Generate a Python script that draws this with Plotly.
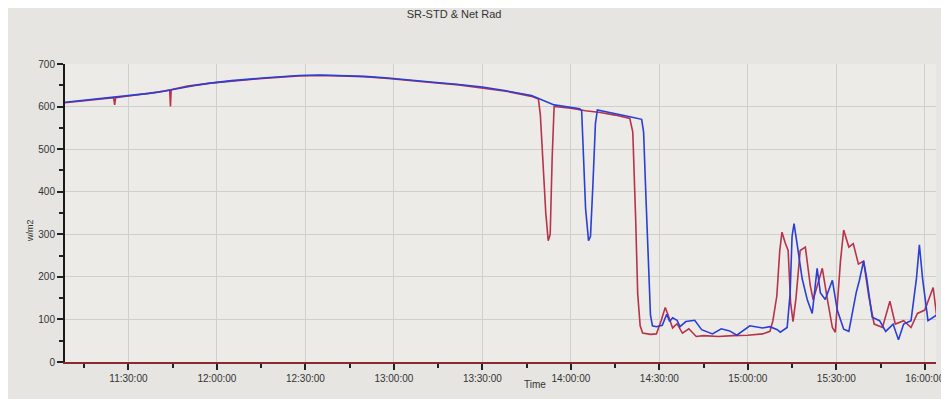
import plotly.graph_objects as go

DAY = "2024-01-01 "

title_text = "SR-STD & Net Rad"
y_title = "w/m2"
x_title = "Time"

red_times = ["11:08:30", "11:20:00", "11:25:00", "11:25:20", "11:25:40", "11:30:00", "11:35:00",
             "11:40:00", "11:44:00", "11:44:15", "11:44:30", "11:50:00", "11:57:45", "12:05:00",
             "12:15:30", "12:27:50", "12:35:00", "12:41:45", "12:50:00", "12:58:00", "13:05:00",
             "13:13:30", "13:22:00", "13:30:00", "13:38:00", "13:46:40", "13:49:00", "13:49:40",
             "13:50:30", "13:51:30", "13:52:20", "13:53:00", "13:53:40", "13:54:20", "14:00:00",
             "14:05:00", "14:10:00", "14:15:00", "14:20:00", "14:21:00", "14:22:00", "14:22:40",
             "14:23:30", "14:24:20", "14:27:00", "14:29:00", "14:30:40", "14:32:00", "14:33:00",
             "14:34:30", "14:36:00", "14:37:50", "14:40:00", "14:42:30", "14:45:00", "14:50:00",
             "14:55:00", "15:00:00", "15:05:00", "15:07:30", "15:08:30", "15:09:50", "15:10:50",
             "15:11:35", "15:12:40", "15:13:40", "15:14:30", "15:15:20", "15:16:20", "15:17:45",
             "15:19:30", "15:21:10", "15:22:10", "15:25:15", "15:27:00", "15:28:40", "15:29:40",
             "15:31:25", "15:32:30", "15:34:15", "15:35:45", "15:37:30", "15:39:15", "15:41:00",
             "15:42:50", "15:45:40", "15:48:10", "15:50:00", "15:52:50", "15:55:20", "15:57:30",
             "16:00:00", "16:02:50", "16:04:00"]
red_values = [609, 617, 621, 604, 621, 625, 629,
              634, 639, 600, 640, 648, 655, 660,
              666, 672, 673, 672, 670, 666, 661,
              656, 651, 644, 636, 624, 618, 580,
              470, 350, 285, 300, 480, 600, 596,
              590, 586, 580, 572, 540, 330, 160,
              85, 68, 65, 66, 98, 128, 110,
              80, 90, 68, 78, 60, 62, 60,
              62, 63, 66, 72, 97, 155, 262,
              305, 280, 262, 140, 95, 150, 262,
              270, 180, 146, 220, 146, 81, 70,
              237, 310, 270, 278, 230, 237, 155,
              89, 81, 143, 89, 97, 81, 114,
              122, 175, 110]

blue_times = ["11:08:30", "11:18:00", "11:22:00", "11:27:00", "11:32:00", "11:37:00", "11:42:00",
              "11:47:00", "11:52:00", "11:57:45", "12:05:00", "12:15:30", "12:27:50", "12:35:00",
              "12:41:45", "12:50:00", "12:58:00", "13:05:00", "13:13:30", "13:22:00", "13:30:00",
              "13:38:00", "13:46:40", "13:54:20", "14:00:00", "14:03:00", "14:03:40", "14:04:20",
              "14:05:00", "14:06:00", "14:06:40", "14:07:30", "14:08:20", "14:09:00", "14:12:00",
              "14:16:00", "14:20:00", "14:24:00", "14:24:40", "14:25:30", "14:26:20", "14:27:00",
              "14:27:40", "14:29:00", "14:31:00", "14:32:30", "14:33:30", "14:34:30", "14:36:00",
              "14:37:00", "14:39:00", "14:42:00", "14:44:20", "14:48:00", "14:51:00", "14:53:50",
              "14:56:15", "15:00:40", "15:05:00", "15:07:30", "15:10:00", "15:11:00", "15:13:20",
              "15:14:20", "15:15:00", "15:15:40", "15:16:40", "15:18:25", "15:20:10", "15:21:50",
              "15:23:30", "15:24:35", "15:26:15", "15:28:40", "15:30:20", "15:32:30", "15:34:15",
              "15:36:45", "15:37:50", "15:39:15", "15:40:20", "15:42:10", "15:44:40", "15:46:45",
              "15:49:15", "15:51:05", "15:52:50", "15:55:20", "15:57:10", "15:58:10", "15:59:15",
              "16:01:05", "16:04:00"]
blue_values = [610, 617, 619, 624, 627, 631, 636,
               643, 649, 655, 661, 667, 673, 674,
               673, 671, 667, 662, 657, 652, 646,
               637, 626, 604, 599, 595, 590, 480,
               360, 285, 295, 420, 560, 592, 588,
               582, 576, 570, 540, 380, 200, 110,
               85, 83, 86, 112, 95, 104, 98,
               83, 95, 98, 76, 66, 78, 73,
               63, 85, 80, 83, 76, 70, 81,
               160, 295, 325, 279, 196, 146, 114,
               220, 163, 147, 192, 122, 77, 72,
               163, 192, 237, 196, 105, 97, 72,
               89, 52, 89, 97, 196, 275, 196,
               97, 110]

y_ticks = [0, 100, 200, 300, 400, 500, 600, 700]

red_color = "#b8324a"
blue_color = "#2b3ed6"

fig = go.Figure()
fig.add_trace(go.Scatter(
    x=[DAY + t for t in red_times], y=red_values, mode="lines",
    line=dict(color=red_color, width=1.6), name="SR-STD", showlegend=False,
))
fig.add_trace(go.Scatter(
    x=[DAY + t for t in blue_times], y=blue_values, mode="lines",
    line=dict(color=blue_color, width=1.6), name="Net Rad", showlegend=False,
))

font_family = "Liberation Sans, Arial, sans-serif"

fig.update_layout(
    width=949, height=399,
    margin=dict(l=57, r=12, t=56, b=45),
    paper_bgcolor="#e6e5e2",
    plot_bgcolor="#edebe7",
    font=dict(family=font_family, size=10, color="#2a2a2a"),
    title=dict(text=title_text, x=0.47, xanchor="center", y=0.995, yref="container",
               yanchor="top", font=dict(size=11, color="#333333")),
    showlegend=False,
)

fig.update_xaxes(
    type="date",
    range=[DAY + "11:08:30", DAY + "16:03:48"],
    tick0=DAY + "11:30:00", dtick=1800000,
    tickformat="%H:%M:%S",
    ticklabeloverflow="allow",
    ticks="outside", ticklen=6, tickwidth=1.5, tickcolor="#222222",
    minor=dict(dtick=900000, tick0=DAY + "11:15:00", ticks="outside", ticklen=4,
               tickcolor="#222222", showgrid=False),
    showline=True, linecolor="#8a2a30", linewidth=2,
    showgrid=True, gridcolor="#cfcfcc", gridwidth=1,
    zeroline=False,
    tickfont=dict(size=10, color="#333333"),
)

fig.update_yaxes(
    range=[0, 700],
    tickvals=y_ticks,
    ticks="outside", ticklen=6, tickwidth=1.5, tickcolor="#222222",
    minor=dict(dtick=50, ticks="outside", ticklen=4, tickcolor="#222222", showgrid=False),
    showline=True, linecolor="#1a1a1a", linewidth=2,
    showgrid=True, gridcolor="#cfcfcc", gridwidth=1,
    zeroline=False,
    tickfont=dict(size=10, color="#333333"),
)

fig.add_annotation(text=x_title, xref="paper", yref="paper", x=0.54, y=-0.05,
                   xanchor="center", yanchor="top", showarrow=False,
                   font=dict(size=10, color="#333333"))
fig.add_annotation(text=y_title, xref="paper", yref="paper", x=-0.04, y=0.44,
                   xanchor="center", yanchor="middle", textangle=-90, showarrow=False,
                   font=dict(size=9, color="#333333"))

fig.write_html("out.html")
